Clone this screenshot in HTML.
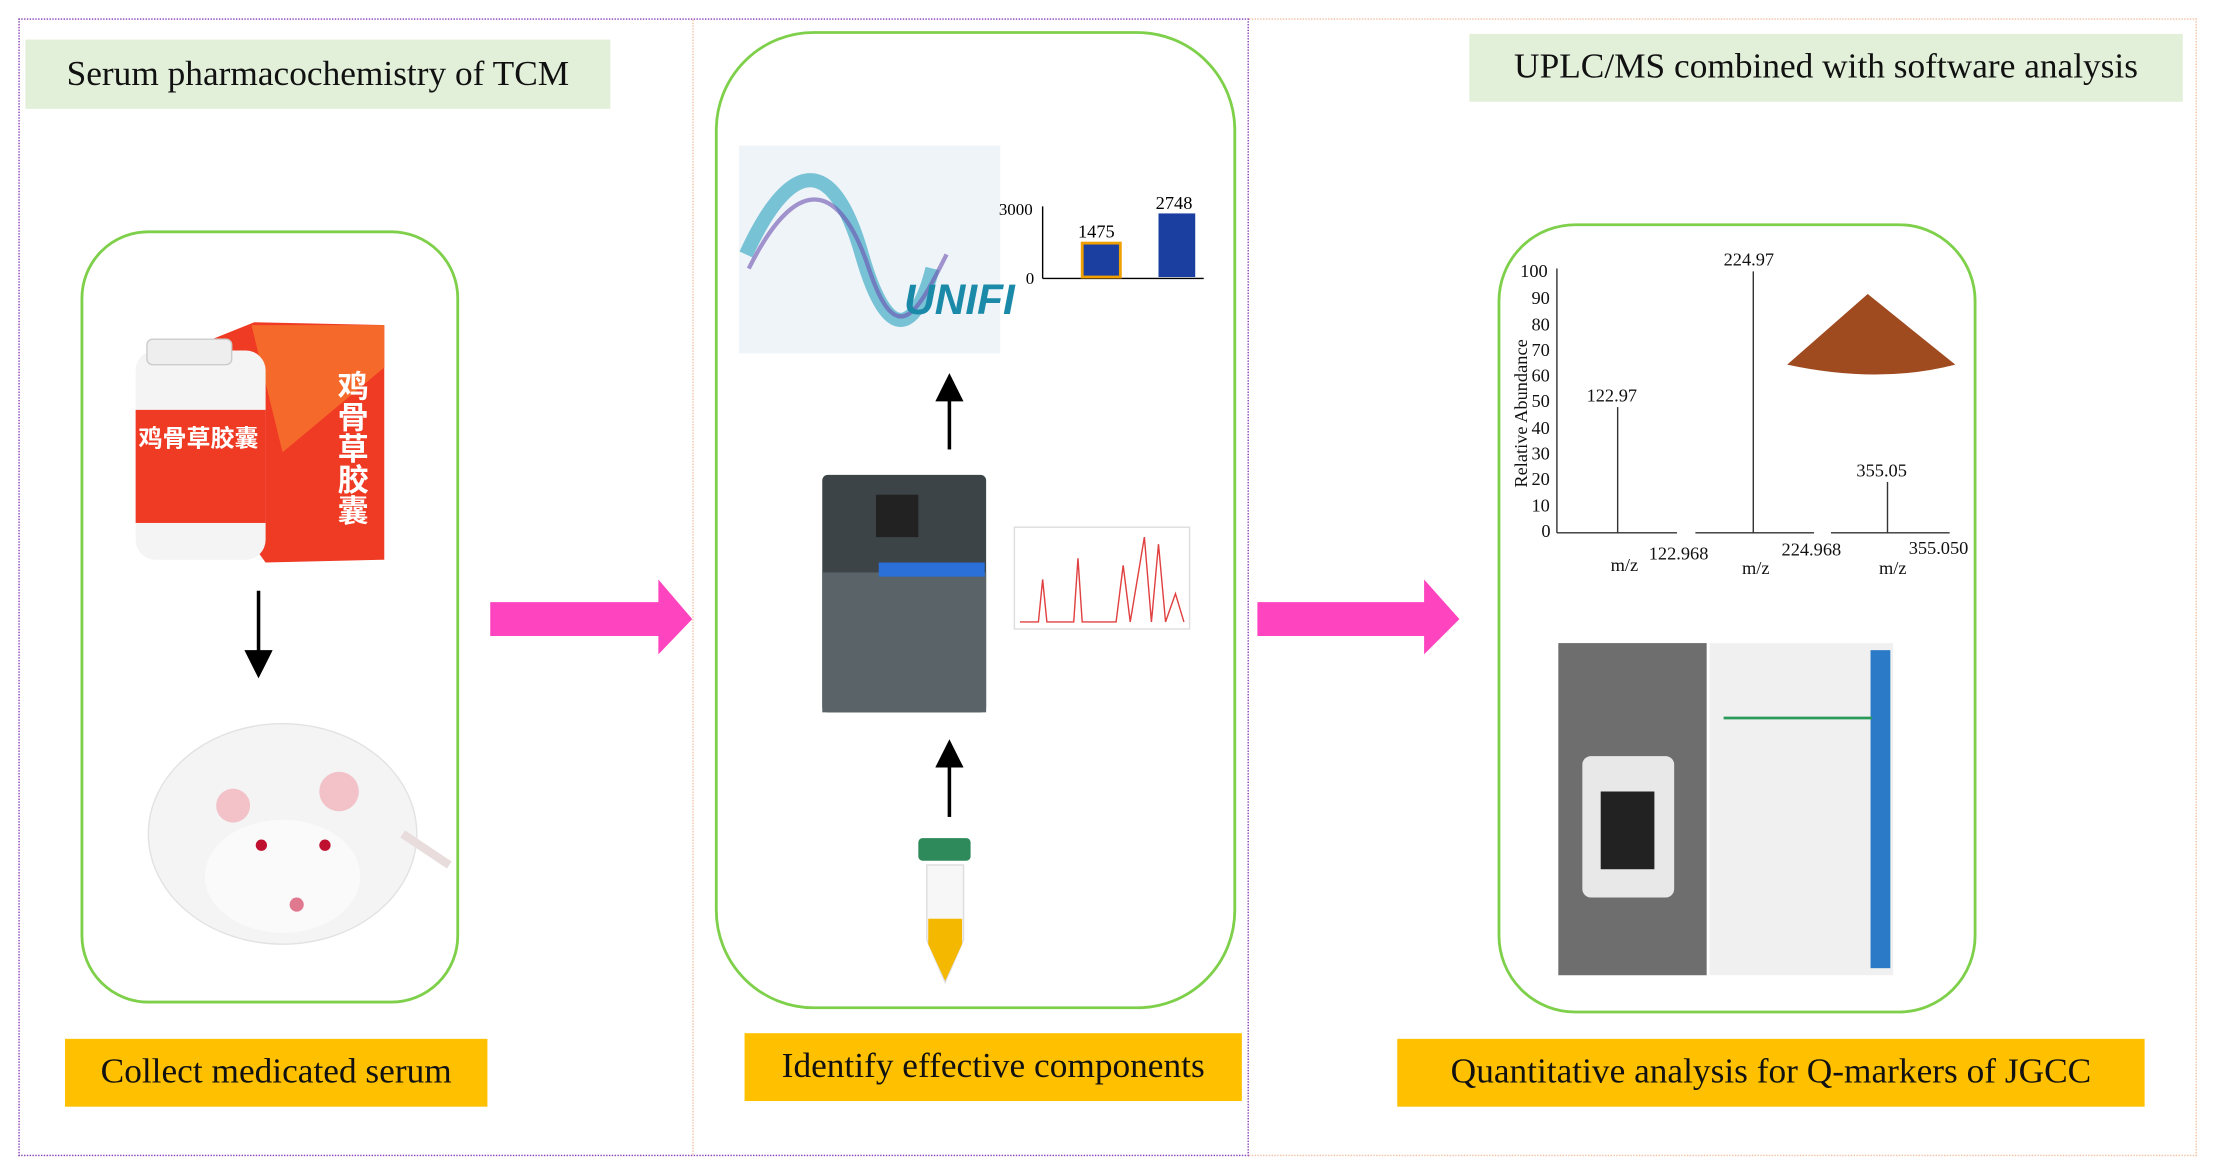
<!DOCTYPE html>
<html><head><meta charset="utf-8"><style>
html,body{margin:0;padding:0;background:#fff;width:2215px;height:1172px;overflow:hidden}
#c{position:absolute;left:0;top:0;width:1568px;height:830px;transform:scale(1.4128,1.4134);transform-origin:0 0;font-family:"Liberation Serif",serif}
.a{position:absolute}
.t{position:absolute;font-size:25px;color:#111;box-sizing:border-box;display:flex;align-items:center;justify-content:center;white-space:nowrap}
.g{background:#e2f0d9}
.y{background:#ffc000}
.rb{position:absolute;border:2.5px solid #7ed04a;box-sizing:border-box}
</style></head><body><div id="c">
<div class="a" style="left:13px;top:13px;width:871px;height:805px;border:1.5px dotted #8a3fb8;box-sizing:border-box"></div>
<div class="a" style="left:884px;top:13px;width:671px;height:805px;border:1.5px dotted #f4c0a0;border-left:none;box-sizing:border-box"></div>
<div class="a" style="left:490px;top:14px;width:0;height:803px;border-left:1.5px dotted #f4c0a0"></div>

<div class="t g" style="left:18px;top:28px;width:414px;height:49px">Serum pharmacochemistry of TCM</div>
<div class="t g" style="left:1040px;top:24px;width:505px;height:48px">UPLC/MS combined with software analysis</div>

<div class="rb" style="left:57px;top:163px;width:268px;height:547px;border-radius:48px"></div>
<div class="rb" style="left:506px;top:22px;width:369px;height:692px;border-radius:70px"></div>
<div class="rb" style="left:1060px;top:158px;width:339px;height:559px;border-radius:55px"></div>

<div class="t y" style="left:46px;top:735px;width:299px;height:48px">Collect medicated serum</div>
<div class="t y" style="left:527px;top:731px;width:352px;height:48px">Identify effective components</div>
<div class="t y" style="left:989px;top:735px;width:529px;height:48px">Quantitative analysis for Q-markers of JGCC</div>

<svg class="a" style="left:0;top:0" width="1568" height="830">
<defs><marker id="m" markerWidth="8" markerHeight="8" refX="4" refY="4" orient="auto"><path d="M0,0L8,4L0,8z" fill="#000"/></marker></defs>
<path d="M347,426H466V410L490,438L466,463V450H347Z" fill="#ff44c0"/>
<path d="M890,426H1008V410L1033,438L1008,463V450H890Z" fill="#ff44c0"/>
<line x1="183" y1="418" x2="183" y2="470" stroke="#000" stroke-width="2.5" marker-end="url(#m)"/>
<line x1="672" y1="318" x2="672" y2="274" stroke="#000" stroke-width="2.5" marker-end="url(#m)"/>
<line x1="672" y1="578" x2="672" y2="533" stroke="#000" stroke-width="2.5" marker-end="url(#m)"/>
<path d="M150,240L180,228L272,230L272,396L188,398L175,380Z" fill="#ef3a24"/>
<path d="M178,230L272,230L272,260L200,320Z" fill="#f56a2a"/>
<rect x="96" y="248" width="92" height="148" rx="14" fill="#f4f4f4"/>
<rect x="104" y="240" width="60" height="18" rx="4" fill="#eee" stroke="#ccc"/>
<rect x="96" y="290" width="92" height="80" fill="#ef3a24"/>
<text x="98" y="316" font-family="Noto Sans CJK SC,sans-serif" font-size="17" fill="#fff" font-weight="bold">鸡骨草胶囊</text>
<text x="250" y="262" font-family="Noto Sans CJK SC,sans-serif" font-size="22" fill="#fff" font-weight="bold" writing-mode="tb">鸡骨草胶囊</text>
<ellipse cx="200" cy="590" rx="95" ry="78" fill="#f4f4f4" stroke="#e2e2e2"/>
<ellipse cx="200" cy="620" rx="55" ry="40" fill="#fafafa"/>
<circle cx="165" cy="570" r="12" fill="#f2c2c8"/><circle cx="240" cy="560" r="14" fill="#f2c2c8"/>
<circle cx="185" cy="598" r="4" fill="#c01030"/><circle cx="230" cy="598" r="4" fill="#c01030"/>
<circle cx="210" cy="640" r="5" fill="#e07890"/>
<path d="M285,590Q300,600 318,612" stroke="#e8dcdc" stroke-width="6" fill="none"/>
<rect x="523" y="103" width="185" height="147" fill="#eef4f8"/>
<path d="M528,180C560,110 590,110 610,180S650,230 660,190" stroke="#2aa0c0" stroke-width="10" fill="none" opacity=".6"/>
<path d="M530,190C565,120 595,130 615,190S650,220 670,180" stroke="#6a50b0" stroke-width="3" fill="none" opacity=".6"/>
<text x="640" y="222" font-family="Liberation Sans,sans-serif" font-size="30" fill="#1a8aa8" font-weight="bold" font-style="italic">UNIFI</text>
<line x1="738" y1="146" x2="738" y2="197" stroke="#000"/><line x1="738" y1="197" x2="852" y2="197" stroke="#000"/>
<text x="707" y="152" font-size="12">3000</text><text x="726" y="201" font-size="12">0</text>
<rect x="766" y="172" width="27" height="24" fill="#1a3fa0" stroke="#f0a000" stroke-width="2"/>
<rect x="820" y="151" width="26" height="45" fill="#1a3fa0"/>
<text x="763" y="168" font-size="13">1475</text><text x="818" y="148" font-size="13">2748</text>
<rect x="582" y="336" width="116" height="168" rx="4" fill="#3c4448"/>
<rect x="582" y="405" width="116" height="99" fill="#5a6468"/>
<rect x="622" y="398" width="75" height="10" fill="#2a70d8"/>
<rect x="620" y="350" width="30" height="30" fill="#222"/>
<rect x="718" y="373" width="124" height="72" fill="#fff" stroke="#ddd"/>
<path d="M722,440L735,440L738,410L741,440L760,440L763,395L766,440L790,440L795,400L800,440L810,380L815,440L820,385L825,440L832,420L838,440" stroke="#e04040" fill="none"/>
<rect x="650" y="593" width="37" height="16" rx="3" fill="#2e8a5a"/>
<path d="M656,612H682V665L669,695L656,665Z" fill="#f7f7f7" stroke="#ddd"/>
<path d="M657,650H681V668L669,694L657,668Z" fill="#f5b800"/>
<g font-size="13" fill="#111">
<line x1="1102" y1="190" x2="1102" y2="377" stroke="#333"/>
<line x1="1102" y1="377" x2="1187" y2="377" stroke="#333"/>
<line x1="1200" y1="377" x2="1284" y2="377" stroke="#333"/>
<line x1="1296" y1="377" x2="1380" y2="377" stroke="#333"/>
<line x1="1145" y1="288" x2="1145" y2="377" stroke="#333"/>
<line x1="1241" y1="192" x2="1241" y2="377" stroke="#333"/>
<line x1="1336" y1="341" x2="1336" y2="377" stroke="#333"/>
<text x="1076" y="196">100</text><text x="1084" y="215">90</text><text x="1084" y="234">80</text><text x="1084" y="252">70</text><text x="1084" y="270">60</text><text x="1084" y="288">50</text><text x="1084" y="307">40</text><text x="1084" y="325">30</text><text x="1084" y="343">20</text><text x="1084" y="362">10</text><text x="1091" y="380">0</text>
<text x="1081" y="345" transform="rotate(-90 1081 345)">Relative Abundance</text>
<text x="1123" y="284">122.97</text><text x="1220" y="188">224.97</text><text x="1314" y="337">355.05</text>
<text x="1167" y="396">122.968</text><text x="1261" y="393">224.968</text><text x="1351" y="392">355.050</text>
<text x="1140" y="404">m/z</text><text x="1233" y="406">m/z</text><text x="1330" y="406">m/z</text>
</g>
<path d="M1265,258L1322,208L1384,258Q1330,272 1265,258Z" fill="#a04a20"/>
<rect x="1103" y="455" width="105" height="235" fill="#6e6e6e"/>
<rect x="1210" y="455" width="130" height="235" fill="#f0f0f0"/>
<rect x="1324" y="460" width="14" height="225" fill="#2a7ac8"/>
<rect x="1120" y="535" width="65" height="100" rx="6" fill="#e8e8e8"/>
<rect x="1133" y="560" width="38" height="55" fill="#222"/>
<line x1="1220" y1="508" x2="1325" y2="508" stroke="#2a9a5a" stroke-width="2"/>
</svg>
</div></body></html>
